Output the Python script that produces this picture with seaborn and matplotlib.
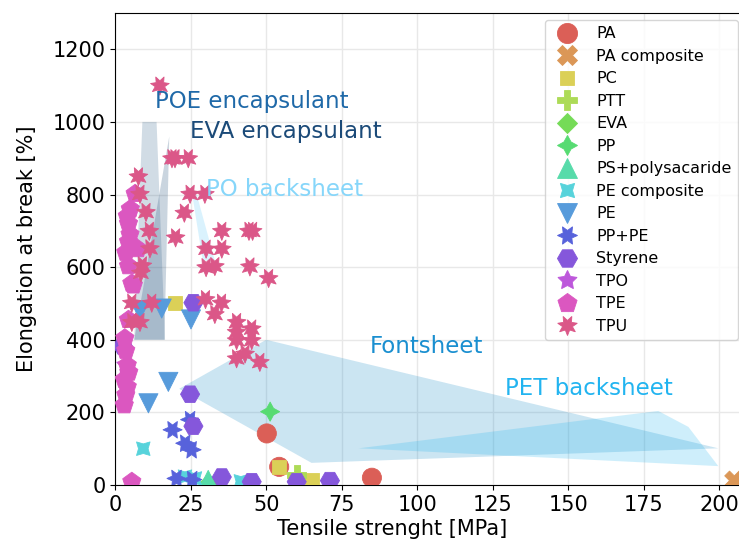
import numpy as np
import pandas as pd
import matplotlib
matplotlib.use("Agg")
import matplotlib.pyplot as plt
import seaborn as sns

# ---- material data: tensile strength [MPa] vs elongation at break [%] ----
categories = ["PA", "PA composite", "PC", "PTT", "EVA", "PP", "PS+polysacaride",
              "PE composite", "PE", "PP+PE", "Styrene", "TPO", "TPE", "TPU"]

pa_x = [50.2, 54.3, 85.0]
pa_y = [142, 50, 20]
pa_comp_x = [205.0]
pa_comp_y = [12]
pc_x = [19.8, 54.3, 65.1]
pc_y = [502, 50, 15]
ptt_x = [60.1]
ptt_y = [28]
eva_x = [31.0]
eva_y = [4]
pp_x = [51.3]
pp_y = [202]
ps_x = [30.8]
ps_y = [14]
pe_comp_x = [9.3, 23.1, 26.4, 41.6]
pe_comp_y = [100, 23, 18, 10]
pe_x = [8.2, 15.4, 25.1, 17.6, 11.0]
pe_y = [481, 486, 456, 284, 225]
pppe_x = [19.0, 23.2, 25.3, 24.8, 20.3, 25.5]
pppe_y = [152, 115, 97, 180, 18, 15]
styrene_x = [25.9, 2.5, 24.8, 25.9, 35.3, 45.2, 60.1, 71.1]
styrene_y = [502, 383, 250, 162, 22, 9, 9, 12]
tpo_x = [3.5]
tpo_y = [330]
tpe_x = [6.6, 5.0, 4.0, 4.4, 4.9, 4.4, 7.5, 3.5, 4.4, 5.5, 6.0, 4.4, 3.2,
         3.5, 4.0, 4.5, 3.0, 4.0, 3.5, 3.0, 5.5]
tpe_y = [802, 760, 740, 720, 690, 670, 650, 640, 603, 555, 550, 455, 404,
         370, 330, 310, 290, 270, 248, 220, 9]
tpu_x = [14.8, 18.8, 19.8, 24.2, 7.7, 8.2, 24.8, 29.7, 10.2, 22.9, 11.3, 35.3,
         44.3, 45.5, 20.0, 11.5, 30.1, 35.3, 9.0, 30.1, 33.0, 44.6, 50.8, 8.5,
         5.5, 12.1, 29.9, 35.2, 33.0, 5.5, 8.2, 40.2, 40.2, 40.2, 45.2, 45.2,
         40.2, 43.0, 47.9]
tpu_y = [1100, 900, 900, 900, 850, 802, 802, 802, 752, 750, 700, 700,
         700, 700, 682, 652, 651, 651, 605, 600, 603, 602, 570, 585,
         502, 502, 512, 502, 471, 449, 449, 449, 422, 399, 431, 399,
         349, 362, 339]

series = {
    "PA": (pa_x, pa_y), "PA composite": (pa_comp_x, pa_comp_y), "PC": (pc_x, pc_y),
    "PTT": (ptt_x, ptt_y), "EVA": (eva_x, eva_y), "PP": (pp_x, pp_y),
    "PS+polysacaride": (ps_x, ps_y), "PE composite": (pe_comp_x, pe_comp_y),
    "PE": (pe_x, pe_y), "PP+PE": (pppe_x, pppe_y), "Styrene": (styrene_x, styrene_y),
    "TPO": (tpo_x, tpo_y), "TPE": (tpe_x, tpe_y), "TPU": (tpu_x, tpu_y),
}

rows = []
for cat in categories:
    xs, ys = series[cat]
    for x, y in zip(xs, ys):
        rows.append({"Tensile strenght [MPa]": x, "Elongation at break [%]": y, "Material": cat})
df = pd.DataFrame(rows)

# ---- application regions (polygon outlines in data coordinates) ----
poe_poly_x = [9.0, 13.7, 16.5, 6.3]
poe_poly_y = [1000, 1000, 400, 400]
eva_poly_x = [17.9, 16.3, 6.3]
eva_poly_y = [960, 400, 400]
po_poly_x = [25.5, 27.0, 33.0, 29.0]
po_poly_y = [800, 800, 618, 618]
front_poly_x = [21.2, 50.0, 199.7, 65.0]
front_poly_y = [265, 400, 101, 61]
pet_poly_x = [80.6, 179.8, 189.8, 199.7]
pet_poly_y = [101, 204, 160, 52]

region_labels = ["POE encapsulant", "EVA encapsulant", "PO backsheet", "Fontsheet", "PET backsheet"]
region_label_x = [13.2, 24.8, 30.1, 84.4, 129.1]
region_label_y = [1056, 974, 814, 382, 267]
region_label_colors = ["#1f69a8", "#1b4a78", "#86d6fa", "#1a8fd0", "#22b4f0"]

# ---- figure ----
W, H = 739, 547
fig = plt.figure(figsize=(W / 100, H / 100), dpi=100)
xmax = 210
ax = fig.add_axes([115.2 / W, 62 / H, xmax * 3.02 / W, 472 / H])

ax.fill(poe_poly_x, poe_poly_y, color="#3a6a90", alpha=0.23, lw=0, zorder=1)
ax.fill(eva_poly_x, eva_poly_y, color="#24507a", alpha=0.24, lw=0, zorder=1)
ax.fill(po_poly_x, po_poly_y, color="#86d6fa", alpha=0.3, lw=0, zorder=1)
ax.fill(front_poly_x, front_poly_y, color="#2793cb", alpha=0.24, lw=0, zorder=1)
ax.fill(pet_poly_x, pet_poly_y, color="#1bb3ef", alpha=0.21, lw=0, zorder=1)

palette = sns.color_palette("hls", len(categories))
sns.scatterplot(data=df, x="Tensile strenght [MPa]", y="Elongation at break [%]",
                hue="Material", style="Material", hue_order=categories,
                style_order=categories, palette=palette, s=190,
                edgecolor="face", linewidth=0.6, ax=ax, zorder=3)

for txt, x, y, c in zip(region_labels, region_label_x, region_label_y, region_label_colors):
    ax.text(x, y, txt, color=c, fontsize=16.5, ha="left", va="center", zorder=4)

ax.set_xlim(0, xmax)
ax.set_ylim(0, 1300)
ax.set_xticks(np.arange(0, 201, 25))
ax.set_yticks(np.arange(0, 1201, 200))
ax.tick_params(labelsize=15)
ax.grid(True, color="#e8e8e8", lw=1, zorder=0)
ax.set_axisbelow(True)
ax.set_xlabel("Tensile strenght [MPa]", fontsize=15)
ax.set_ylabel("Elongation at break [%]", fontsize=15)
ax.xaxis.set_label_coords((392 - 115.2) / (xmax * 3.02), -0.072)
ax.yaxis.set_label_coords((37 - 115.2) / (xmax * 3.02), 0.5)

leg = ax.legend(loc="upper right", bbox_to_anchor=(738 / W, 527 / H),
                bbox_transform=fig.transFigure, fontsize=11.5, title=None,
                borderaxespad=0, labelspacing=0.47)
for h in leg.legend_handles:
    if hasattr(h, "set_markersize"):
        h.set_markersize(14.5)
        h.set_markeredgewidth(0.6)

fig.savefig("out.png", dpi=100)
